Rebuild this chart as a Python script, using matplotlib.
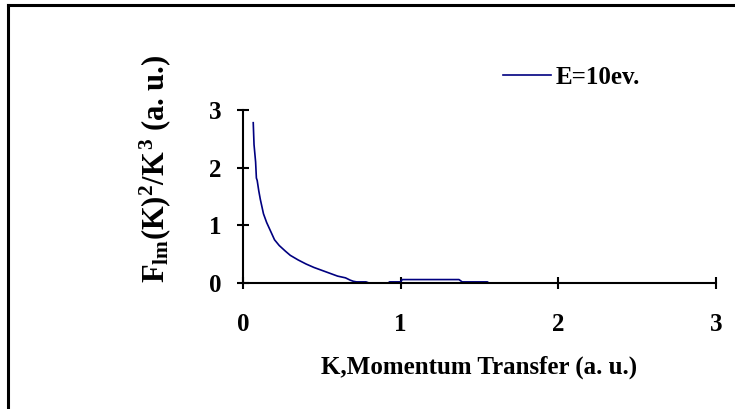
import numpy as np
import matplotlib
matplotlib.use("Agg")
import matplotlib.pyplot as plt
from matplotlib.lines import Line2D

plt.rcParams['font.family'] = ['Liberation Serif', 'DejaVu Serif']
plt.rcParams['font.weight'] = 'bold'
plt.rcParams['mathtext.fontset'] = 'custom'
plt.rcParams['mathtext.rm'] = 'Liberation Serif:bold'
plt.rcParams['mathtext.it'] = 'Liberation Serif:bold'
plt.rcParams['mathtext.bf'] = 'Liberation Serif:bold'

# K (a.u.) and F_lm(K)^2/K^3
k = [0.065, 0.07, 0.075, 0.08, 0.085, 0.09, 0.10, 0.11, 0.13, 0.15, 0.17,
     0.20, 0.23, 0.27, 0.30, 0.35, 0.40, 0.45, 0.50, 0.55, 0.60, 0.65,
     0.68, 0.70, 0.72, 0.78, 0.80, 0.92, 0.93, 1.0, 1.01, 1.37, 1.39,
     1.55, 1.56, 2.5]
f = [2.78, 2.4, 2.25, 2.1, 1.82, 1.78, 1.6, 1.45, 1.2, 1.05, 0.93,
     0.75, 0.65, 0.55, 0.48, 0.40, 0.33, 0.27, 0.22, 0.17, 0.12, 0.09,
     0.05, 0.03, 0.02, 0.02, 0.0, 0.0, 0.02, 0.02, 0.06, 0.06, 0.02,
     0.02, 0.0, 0.0]
label = "E=10ev."
xticks = [0, 1, 2, 3]
yticks = [0, 1, 2, 3]

fig = plt.figure(figsize=(7.35, 4.09), dpi=100, facecolor="white")
ax = fig.add_axes([0.3306, 0.308, 0.6435, 0.423])
ax.plot(k, f, color="#000080", lw=1.2, label=label)

ax.set_xlim(0, 3)
ax.set_ylim(0, 3)
ax.set_xticks(xticks)
ax.set_yticks(yticks)
ax.spines['top'].set_visible(False)
ax.spines['right'].set_visible(False)
ax.spines['left'].set_linewidth(1.5)
ax.spines['bottom'].set_linewidth(1.5)
ax.tick_params(axis='x', direction='inout', length=9, width=1.5, pad=17, labelsize=18)
ax.tick_params(axis='y', direction='inout', length=9, width=1.5, pad=11, labelsize=18)
for t in ax.get_xticklabels() + ax.get_yticklabels():
    t.set_fontweight('bold')

ax.set_xlabel("K,Momentum Transfer (a. u.)", fontsize=18, fontweight='bold', labelpad=14)
ax.set_ylabel(r"$F_{lm}(K)^2/K^3$ (a. u.)", fontsize=22, fontweight='bold')
ax.yaxis.set_label_coords(-0.148, 0.662)

ax.legend(loc='center left', bbox_to_anchor=(0.503, 1.19), frameon=False,
          handlelength=1.9, handletextpad=0.2, prop={'size': 18, 'weight': 'bold'})

# outer frame: top and left edges only
fig.add_artist(Line2D([8 / 735, 1], [1 - 5 / 409, 1 - 5 / 409], color='black', lw=2.2, transform=fig.transFigure))
fig.add_artist(Line2D([8 / 735, 8 / 735], [0, 1 - 5 / 409], color='black', lw=2.2, transform=fig.transFigure))

fig.savefig("out.png", dpi=100)
